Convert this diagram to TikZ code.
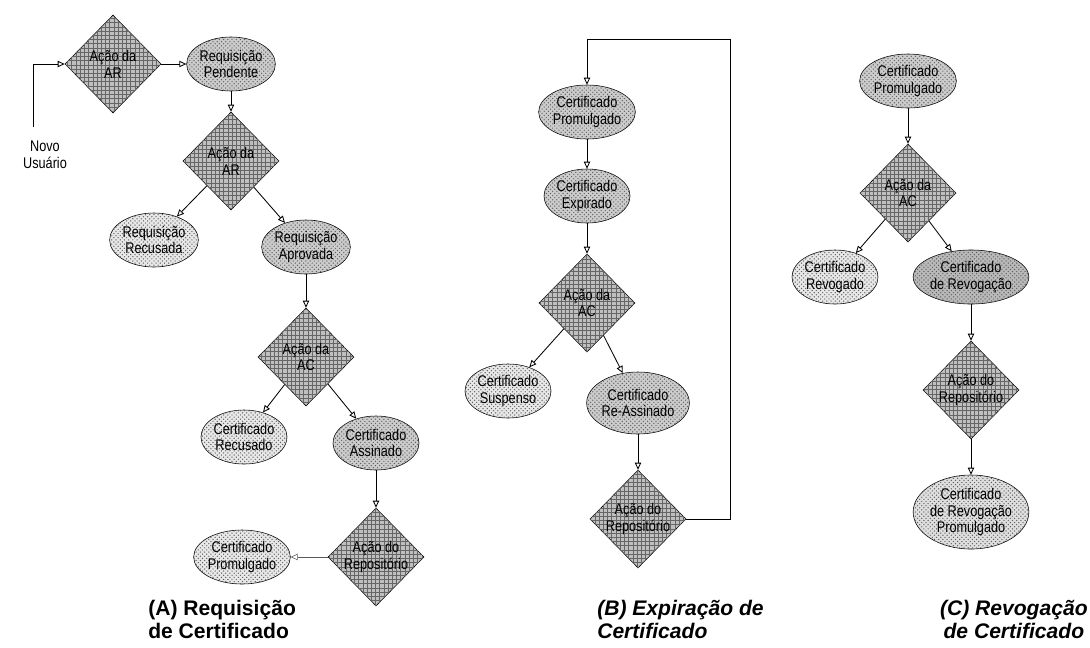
\documentclass[tikz,border=0pt]{standalone}
\usepackage{fontspec}
\setmainfont{Liberation Sans}[FakeStretch=0.82]
\newfontfamily\titlefont{Liberation Sans}
\usetikzlibrary{positioning, shapes.geometric, arrows.meta, patterns}

\begin{document}
\begin{tikzpicture}[
	x=0.025cm, y=-0.025cm,
	% --- ESTILOS ---
	decblock/.style={
		diamond, draw, fill=gray!50, postaction={pattern=grid, pattern color=gray!80!black},
		minimum width=2.4cm, minimum height=2.45cm, inner sep=0pt, align=center, font=\fontsize{11}{12}\selectfont
	},
	statenode/.style={
		ellipse, draw, fill=gray!#1, postaction={pattern=crosshatch dots, pattern color=gray!75!black},
		minimum width=2.15cm, minimum height=1.35cm, inner sep=0pt, align=center, font=\fontsize{11}{12}\selectfont
	},
	statenode/.default=40,
	line/.style={
		draw, -{Triangle[open, length=5pt, width=4.5pt]}, line width=0.6pt
	},
	titlelabel/.style={
		inner sep=0pt, font=\titlefont\bfseries#1\fontsize{15}{16.5}\selectfont
	},
	titlelabel/.default={}
	]
	\useasboundingbox (0,0) rectangle (1090,647);
	
	% ==========================================
	% (A) Requisição de Certificado
	% ==========================================
	\node [align=center, font=\fontsize{11}{12}\selectfont] (novo) at (45,155) {Novo\\Usuário};
	\coordinate (entrada) at (33,127);
	\node [decblock] (acaoAR1) at (113,64) {Ação da\\AR};
	\node [statenode] (reqPend) at (231,64) {Requisição\\Pendente};
	\node [decblock] (acaoAR2) at (231,161) {Ação da\\AR};
	\node [statenode=18] (reqRec) at (154,240) {Requisição\\Recusada};
	\node [statenode] (reqAprov) at (306,247) {Requisição\\Aprovada};
	\node [decblock] (acaoAC1) at (306,357) {Ação da\\AC};
	\node [statenode=18] (certRec) at (244,437) {Certificado\\Recusado};
	\node [statenode] (certAss) at (376,443) {Certificado\\Assinado};
	\node [decblock] (repA) at (376,557) {Ação do\\Repositório};
	\node [statenode=18] (certPromA) at (242,557) {Certificado\\Promulgado};
	
	\draw [line] (entrada) |- (acaoAR1.west);
	\draw [line] (acaoAR1) -- (reqPend);
	\draw [line] (reqPend) -- (acaoAR2);
	\draw [line] (acaoAR2) -- (reqRec);
	\draw [line] (acaoAR2) -- (reqAprov);
	\draw [line] (reqAprov) -- (acaoAC1);
	\draw [line] (acaoAC1) -- (certRec);
	\draw [line] (acaoAC1) -- (certAss);
	\draw [line] (certAss) -- (repA);
	\draw [line, gray!70!black, line width=0.4pt] (repA) -- (certPromA);
	
	\node [titlelabel, align=left, anchor=north west] (capA) at (148,600) {(A) Requisição\\de Certificado};
	
	% ==========================================
	% (B) Expiração de Certificado
	% ==========================================
	\node [statenode] (promB) at (587,112) {Certificado\\Promulgado};
	\node [statenode] (expB) at (587,196) {Certificado\\Expirado};
	\node [decblock] (acaoAC2) at (587,303) {Ação da\\AC};
	\node [statenode=18] (suspB) at (508,391) {Certificado\\Suspenso};
	\node [statenode, minimum height=1.55cm] (reassB) at (638,403) {Certificado\\Re-Assinado};
	\node [decblock] (repB) at (638,519) {Ação do\\Repositório};
	\coordinate (loopB) at (730,39);
	
	\draw [line] (promB) -- (expB);
	\draw [line] (expB) -- (acaoAC2);
	\draw [line] (acaoAC2) -- (suspB);
	\draw [line] (acaoAC2) -- (reassB);
	\draw [line] (reassB) -- (repB);
	\draw [line] (repB.east) -| (loopB) -| (promB.north);
	
	\node [titlelabel=\itshape, align=left, anchor=north west] (capB) at (597,600) {(B) Expiração de\\Certificado};
	
	% ==========================================
	% (C) Revogação de Certificado
	% ==========================================
	\node [statenode] (promC) at (908,81) {Certificado\\Promulgado};
	\node [decblock] (acaoAC3) at (908,193) {Ação da\\AC};
	\node [statenode=18] (revC) at (835,277) {Certificado\\Revogado};
	\node [statenode=55, minimum width=2.5cm] (certRevC) at (971,277) {Certificado\\de Revogação};
	\node [decblock] (repC) at (971,390) {Ação do\\Repositório};
	\node [statenode=25, minimum width=2.6cm, minimum height=1.85cm] (certRevPromC) at (971,512) {Certificado\\de Revogação\\Promulgado};
	
	\draw [line] (promC) -- (acaoAC3);
	\draw [line] (acaoAC3) -- (revC);
	\draw [line] (acaoAC3) -- (certRevC);
	\draw [line] (certRevC) -- (repC);
	\draw [line] (repC) -- (certRevPromC);
	
	\node [titlelabel=\itshape, align=center, anchor=north east] (capC) at (1088,600) {(C) Revogação\\de Certificado};
\end{tikzpicture}
\end{document}
